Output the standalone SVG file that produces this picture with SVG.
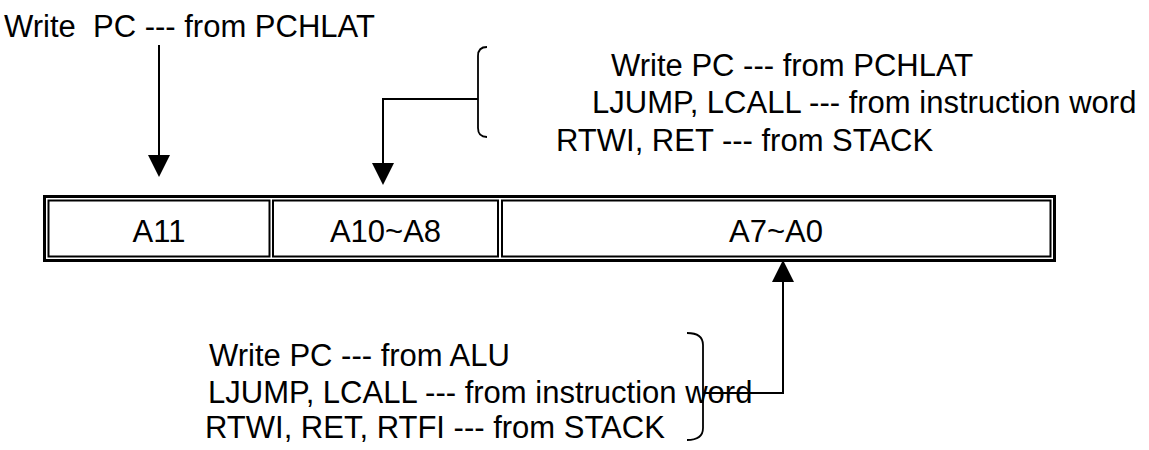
<svg xmlns="http://www.w3.org/2000/svg" width="1149" height="450" viewBox="0 0 1149 450">
<style>
text{font-family:"Liberation Sans",Arial,sans-serif;font-size:31px;fill:#000;white-space:pre}
.cell{fill:none;stroke:#000;stroke-width:2}
.frame{fill:none;stroke:#000;stroke-width:3}
.ln{fill:none;stroke:#000;stroke-width:2}
.br{fill:none;stroke:#000;stroke-width:1.8}
.mid{text-anchor:middle}
</style>
<defs>
<marker id="ah" markerUnits="userSpaceOnUse" markerWidth="22" markerHeight="22" refX="0" refY="11" orient="auto" viewBox="0 0 22 22">
<path d="M0,0 L22,11 L0,22 Z" fill="#000"/>
</marker>
</defs>
<rect width="1149" height="450" fill="#fff"/>
<g id="register">
<rect class="frame" x="44.5" y="196.5" width="1010" height="64"/>
<g id="cell-a11">
<rect class="cell" x="48.5" y="200.5" width="221" height="56"/>
<text class="mid" x="159" y="242">A11</text>
</g>
<g id="cell-a10-a8">
<rect class="cell" x="273" y="200.5" width="225" height="56"/>
<text class="mid" x="385.5" y="242">A10~A8</text>
</g>
<g id="cell-a7-a0">
<rect class="cell" x="502" y="200.5" width="548.5" height="56"/>
<text class="mid" x="776" y="242">A7~A0</text>
</g>
</g>
<g id="label-top-left">
<text x="4" y="37">Write  PC --- from PCHLAT</text>
</g>
<g id="label-top-right">
<text x="611" y="76">Write PC --- from PCHLAT</text>
<text x="592" y="113">LJUMP, LCALL --- from instruction word</text>
<text x="556" y="151">RTWI, RET --- from STACK</text>
<path class="br" d="M487,47 Q478,47 478,56 L478,128 Q478,137 487,137"/>
</g>
<g id="label-bottom">
<text x="209" y="366">Write PC --- from ALU</text>
<text x="208" y="403">LJUMP, LCALL --- from instruction word</text>
<text x="205" y="438">RTWI, RET, RTFI --- from STACK</text>
<path class="br" d="M687,333 Q703,333 703,345 L703,428 Q703,440 687,440"/>
</g>
<g id="connectors">
<path class="ln" d="M159,45 L159,155" marker-end="url(#ah)"/>
<path class="ln" d="M478,99 L383,99 L383,163" marker-end="url(#ah)"/>
<path class="ln" d="M703,393 L783,393 L783,282" marker-end="url(#ah)"/>
</g>
</svg>
